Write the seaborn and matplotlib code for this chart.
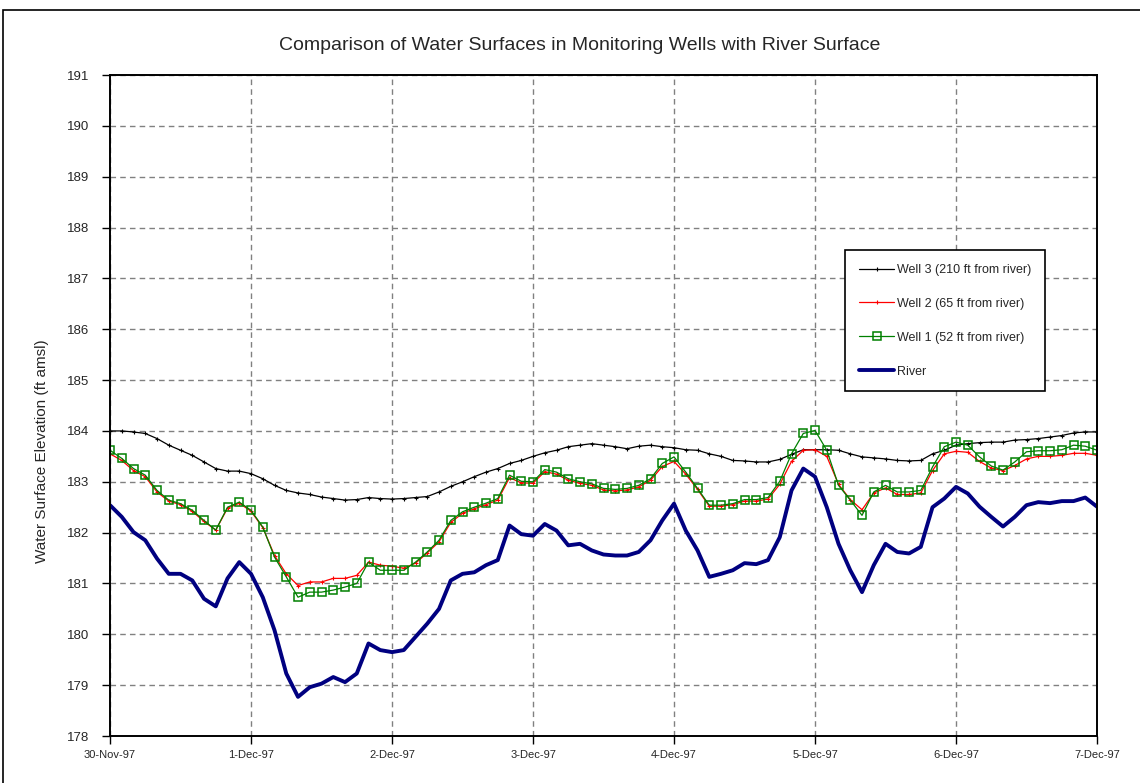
import pandas as pd
import matplotlib
matplotlib.use("Agg")
import matplotlib.pyplot as plt
from matplotlib.patches import Rectangle
import seaborn as sns

# lecturas cada 2 horas, 30-Nov-97 00:00 a 7-Dec-97 00:00
tiempos = pd.date_range("1997-11-30", periods=85, freq="2h")

well3 = [184.00, 184.00, 183.98, 183.95, 183.85, 183.72, 183.62, 183.52, 183.39, 183.26,
         183.21, 183.21, 183.16, 183.06, 182.93, 182.83, 182.78, 182.75, 182.70, 182.67,
         182.64, 182.65, 182.69, 182.67, 182.66, 182.67, 182.69, 182.71, 182.80, 182.91,
         183.00, 183.10, 183.19, 183.26, 183.36, 183.42, 183.50, 183.57, 183.62, 183.69,
         183.72, 183.75, 183.72, 183.69, 183.65, 183.70, 183.72, 183.69, 183.67, 183.63,
         183.62, 183.55, 183.50, 183.42, 183.41, 183.39, 183.39, 183.44, 183.54, 183.63,
         183.63, 183.63, 183.62, 183.55, 183.49, 183.47, 183.45, 183.42, 183.41, 183.42,
         183.55, 183.62, 183.72, 183.75, 183.77, 183.78, 183.78, 183.82, 183.83, 183.85,
         183.88, 183.91, 183.96, 183.98, 183.98]

well2 = [183.55, 183.42, 183.22, 183.10, 182.80, 182.62, 182.55, 182.42, 182.22, 182.05,
         182.48, 182.58, 182.42, 182.10, 181.55, 181.19, 180.96, 181.03, 181.03, 181.10,
         181.10, 181.16, 181.42, 181.36, 181.34, 181.30, 181.40, 181.60, 181.82, 182.20,
         182.38, 182.47, 182.55, 182.64, 183.08, 182.98, 182.97, 183.20, 183.15, 183.03,
         182.97, 182.93, 182.84, 182.82, 182.84, 182.90, 183.03, 183.30, 183.40, 183.15,
         182.85, 182.52, 182.52, 182.55, 182.62, 182.62, 182.66, 182.95, 183.40, 183.62,
         183.63, 183.50, 182.95, 182.65, 182.45, 182.78, 182.88, 182.75, 182.75, 182.78,
         183.22, 183.55, 183.60, 183.58, 183.40, 183.27, 183.22, 183.32, 183.45, 183.50,
         183.50, 183.52, 183.56, 183.56, 183.52]

well1 = [183.62, 183.46, 183.26, 183.13, 182.83, 182.64, 182.57, 182.44, 182.24, 182.05,
         182.50, 182.60, 182.44, 182.11, 181.52, 181.13, 180.73, 180.83, 180.83, 180.87,
         180.93, 181.00, 181.42, 181.26, 181.26, 181.26, 181.42, 181.62, 181.85, 182.24,
         182.41, 182.50, 182.58, 182.67, 183.13, 183.01, 183.00, 183.24, 183.19, 183.06,
         183.00, 182.96, 182.87, 182.85, 182.87, 182.93, 183.06, 183.36, 183.49, 183.19,
         182.87, 182.54, 182.54, 182.57, 182.65, 182.65, 182.69, 183.01, 183.55, 183.95,
         184.01, 183.62, 182.93, 182.64, 182.34, 182.80, 182.93, 182.80, 182.80, 182.83,
         183.29, 183.69, 183.78, 183.72, 183.49, 183.31, 183.23, 183.39, 183.59, 183.61,
         183.61, 183.63, 183.72, 183.70, 183.62]

rio = [182.54, 182.31, 182.01, 181.85, 181.49, 181.19, 181.19, 181.06, 180.70, 180.55,
       181.10, 181.42, 181.19, 180.73, 180.08, 179.23, 178.77, 178.96, 179.03, 179.16,
       179.06, 179.23, 179.82, 179.69, 179.65, 179.69, 179.95, 180.21, 180.50, 181.06,
       181.19, 181.22, 181.36, 181.46, 182.14, 181.97, 181.94, 182.17, 182.04, 181.75,
       181.78, 181.65, 181.57, 181.55, 181.55, 181.62, 181.85, 182.24, 182.57, 182.04,
       181.65, 181.13, 181.19, 181.26, 181.40, 181.38, 181.46, 181.91, 182.83, 183.26,
       183.10, 182.50, 181.78, 181.26, 180.83, 181.36, 181.78, 181.62, 181.59, 181.72,
       182.50, 182.67, 182.90, 182.77, 182.51, 182.31, 182.12, 182.31, 182.54, 182.60,
       182.58, 182.62, 182.62, 182.69, 182.51]

fechas_ticks = pd.date_range("1997-11-30", "1997-12-07", freq="D")
etiquetas_x = ["30-Nov-97", "1-Dec-97", "2-Dec-97", "3-Dec-97", "4-Dec-97",
               "5-Dec-97", "6-Dec-97", "7-Dec-97"]
ticks_y = list(range(178, 192))

sns.set_style("white")
plt.rcParams['font.family'] = ['Liberation Sans', 'DejaVu Sans']

fig, ax = plt.subplots(figsize=(11.4, 7.83), dpi=100)
fig.subplots_adjust(left=0.0965, right=0.9623, top=0.9042, bottom=0.06)

sns.lineplot(x=tiempos, y=well3, ax=ax, color="black", linewidth=0.9, marker="+",
             markersize=3.5, markeredgecolor="black", markeredgewidth=0.8,
             label="Well 3 (210 ft from river)")
sns.lineplot(x=tiempos, y=well2, ax=ax, color="red", linewidth=0.9, marker="+",
             markersize=3.5, markeredgecolor="red", markeredgewidth=0.8,
             label="Well 2 (65 ft from river)")
sns.lineplot(x=tiempos, y=well1, ax=ax, color="#008000", linewidth=0.9, marker="s",
             markersize=6, markerfacecolor="none", markeredgecolor="#008000",
             markeredgewidth=1.1, label="Well 1 (52 ft from river)")
sns.lineplot(x=tiempos, y=rio, ax=ax, color="#000080", linewidth=2.8, label="River")

ax.set_xlim(fechas_ticks[0], fechas_ticks[-1])
ax.set_ylim(178, 191)
ax.set_xticks(fechas_ticks)
ax.set_xticklabels(etiquetas_x, fontsize=8)
ax.set_yticks(ticks_y)
ax.set_yticklabels([str(v) for v in ticks_y], fontsize=9.5)
ax.set_xlabel("")
ax.set_ylabel("")
ax.tick_params(axis="both", direction="out", length=6, width=1, color="black",
               bottom=True, left=True)
ax.tick_params(axis="y", pad=9)
ax.tick_params(axis="x", pad=4)

ax.grid(True, color="#808080", linestyle=(0, (4, 3)), linewidth=1)
for s in ax.spines.values():
    s.set_color("black")
    s.set_linewidth(1.4)

fig.text(580 / 1140, 1 - 45 / 783,
         "Comparison of Water Surfaces in Monitoring Wells with River Surface",
         ha="center", va="center", fontsize=14)
fig.text(42 / 1140, 0.424, "Water Surface Elevation (ft amsl)", rotation=90,
         ha="center", va="center", fontsize=11)

leg = ax.legend(loc="upper left", bbox_to_anchor=(0.745, 0.735), borderaxespad=0,
                fontsize=9, labelspacing=1.75, handlelength=2.8, handletextpad=0.2,
                borderpad=1.1, frameon=True, fancybox=False, framealpha=1)
leg.get_frame().set_edgecolor("black")
leg.get_frame().set_linewidth(1.2)

# marco exterior del gráfico
fig.patches.append(Rectangle((3 / 1140, -0.05), 1.2, 1.05 - 10 / 783, fill=False,
                             edgecolor="black", linewidth=1.2,
                             transform=fig.transFigure, figure=fig))

fig.savefig("out.png", dpi=100)
